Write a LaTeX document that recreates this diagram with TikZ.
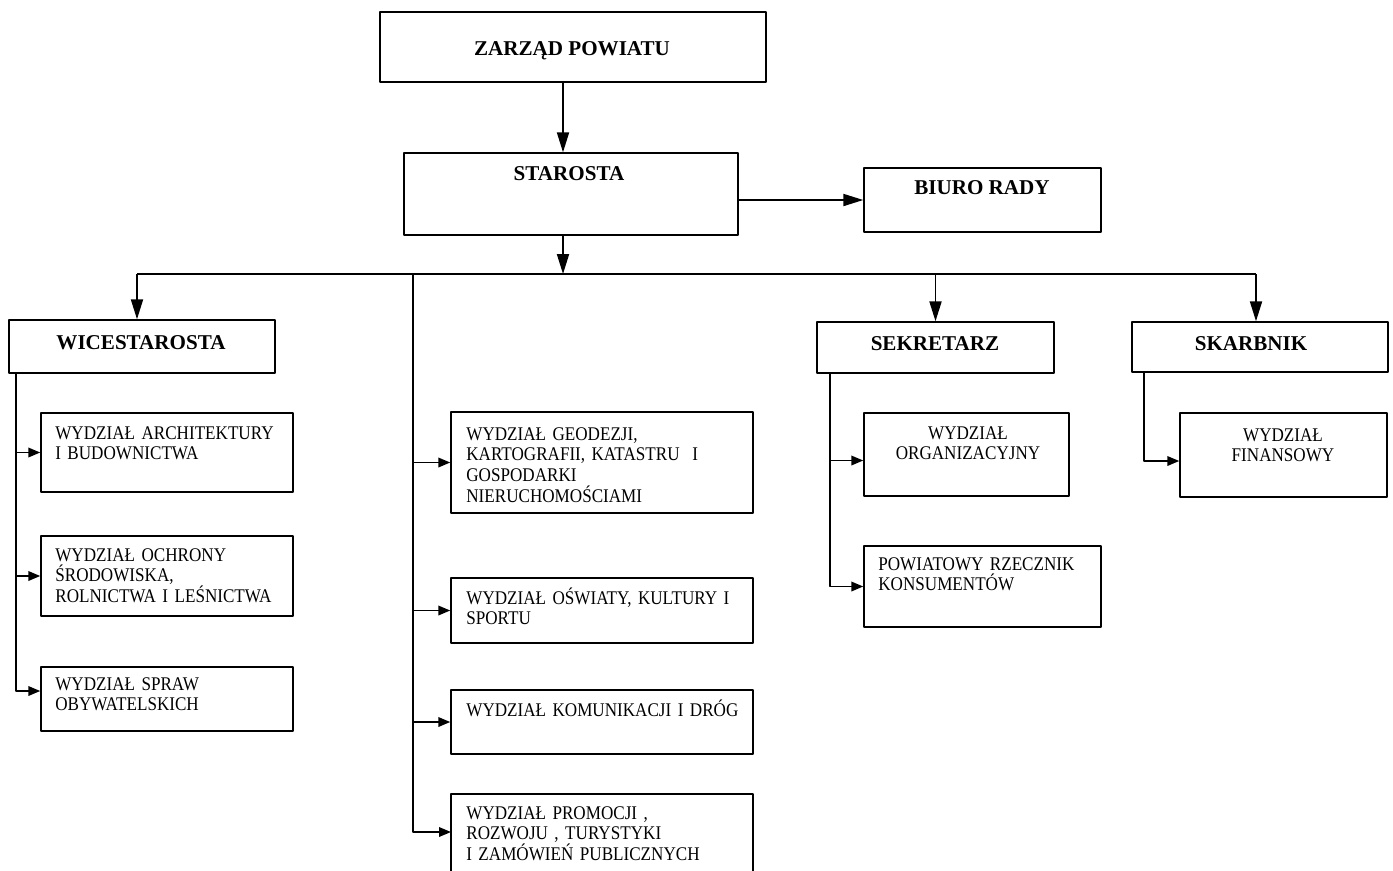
\documentclass[tikz,border=0pt]{standalone}
\usepackage{fontspec}
\setmainfont{Liberation Serif}
\newfontfamily\deptfont{Liberation Serif}[FakeStretch=0.885]
\usetikzlibrary{arrows.meta,fit}

\begin{document}
\begin{tikzpicture}
[x=0.02cm,y=-0.02cm,line join=round]
\tikzstyle{box}=[draw,line width=0.8pt,inner sep=0pt]
\tikzstyle{head}=[font=\fontsize{12}{14}\selectfont\bfseries,inner sep=0pt,anchor=base]
\tikzstyle{dept}=[font=\deptfont\fontsize{11}{11.8}\selectfont,inner sep=0pt,align=left,text width=6cm,anchor=base west]
\tikzstyle{deptc}=[font=\deptfont\fontsize{11}{11.8}\selectfont,inner sep=0pt,align=center,text width=4cm,anchor=base]
\tikzstyle{link}=[line width=1.1pt]
\tikzstyle{arr}=[link,-{Triangle[length=0.4cm,width=0.24cm]}]
\tikzstyle{sarr}=[link,-{Triangle[length=0.24cm,width=0.19cm]}]
\useasboundingbox (0,0) rectangle (1393,870);
\clip (0,0) rectangle (1393,870);

% boxes
\node[box,fit={(380,12) (766,82)}] (zarzad) {};
\node[box,fit={(404,153) (738,235)}] (starosta) {};
\node[box,fit={(864,168) (1101,232)}] (biuro) {};
\node[box,fit={(9,320) (275,373)}] (wice) {};
\node[box,fit={(817,322) (1054,373)}] (sekretarz) {};
\node[box,fit={(1132,322) (1388,372)}] (skarbnik) {};
\node[box,fit={(41,413) (293,492)}] (arch) {};
\node[box,fit={(41,536) (293,616)}] (ochrona) {};
\node[box,fit={(41,667) (293,731)}] (spraw) {};
\node[box,fit={(451,412) (753,513)}] (geodezja) {};
\node[box,fit={(451,578) (753,643)}] (oswiata) {};
\node[box,fit={(451,690) (753,754)}] (komunikacja) {};
\node[box,fit={(451,794) (753,900)}] (promocja) {};
\node[box,fit={(864,413) (1069,496)}] (organizacja) {};
\node[box,fit={(864,546) (1101,627)}] (rzecznik) {};
\node[box,fit={(1180,413) (1387,497)}] (finanse) {};

% texts
\node[head] (zarzad-t) at (572,55) {ZARZĄD POWIATU};
\node[head] (starosta-t) at (569,180) {STAROSTA};
\node[head] (biuro-t) at (982,194) {BIURO RADY};
\node[head] (wice-t) at (141,349) {WICESTAROSTA};
\node[head] (sekretarz-t) at (935,350) {SEKRETARZ};
\node[head] (skarbnik-t) at (1251,350) {SKARBNIK};
\node[dept] (arch-t) at (55,439) {WYDZIAŁ ARCHITEKTURY\\I BUDOWNICTWA};
\node[dept] (ochrona-t) at (55,561) {WYDZIAŁ OCHRONY\\ŚRODOWISKA,\\ROLNICTWA I LEŚNICTWA};
\node[dept] (spraw-t) at (55,690) {WYDZIAŁ SPRAW\\OBYWATELSKICH};
\node[dept] (geodezja-t) at (466,440) {WYDZIAŁ GEODEZJI,\\KARTOGRAFII, KATASTRU\ \ I\\GOSPODARKI\\NIERUCHOMOŚCIAMI};
\node[dept] (oswiata-t) at (466,604) {WYDZIAŁ OŚWIATY, KULTURY I\\SPORTU};
\node[dept] (komunikacja-t) at (466,716) {WYDZIAŁ KOMUNIKACJI I DRÓG};
\node[dept] (promocja-t) at (466,819) {WYDZIAŁ PROMOCJI ,\\ROZWOJU , TURYSTYKI\\I ZAMÓWIEŃ PUBLICZNYCH};
\node[deptc] (organizacja-t) at (968,439) {WYDZIAŁ\\ORGANIZACYJNY};
\node[dept] (rzecznik-t) at (878,570) {POWIATOWY RZECZNIK\\KONSUMENTÓW};
\node[deptc] (finanse-t) at (1283,441) {WYDZIAŁ\\FINANSOWY};

% points on the lines
\coordinate (mainx) at (563,0);
\coordinate (bus) at (563,274);
\coordinate (busl) at (137,274);
\coordinate (busr) at (1256,274);
\coordinate (midx) at (413,274);
\coordinate (leftx) at (16,0);
\coordinate (sekx) at (830,0);
\coordinate (skax) at (1144,0);
\coordinate (promocja-in) at (451,832);

% connectors
\draw[arr] (zarzad.south -| mainx) -- (starosta.north -| mainx);
\draw[arr] (starosta.east |- biuro.west) -- (biuro.west);
\draw[arr] (starosta.south -| mainx) -- (bus);
\draw[link] (busl) -- (busr);
\draw[arr] (busl) -- (wice.north -| busl);
\draw[arr] (bus -| sekretarz.north) -- (sekretarz.north);
\draw[arr] (busr) -- (skarbnik.north -| busr);
\draw[sarr] (wice.south -| leftx) |- (arch.west);
\draw[sarr] (wice.south -| leftx) |- (ochrona.west);
\draw[sarr] (wice.south -| leftx) |- ([yshift=0.16cm]spraw.west);
\draw[sarr] (midx) |- (geodezja.west);
\draw[sarr] (midx) |- (oswiata.west);
\draw[sarr] (midx) |- (komunikacja.west);
\draw[sarr] (midx) |- (promocja-in);
\draw[sarr] (sekretarz.south -| sekx) |- ([yshift=-0.12cm]organizacja.west);
\draw[sarr] (sekretarz.south -| sekx) |- (rzecznik.west);
\draw[sarr] (skarbnik.south -| skax) |- ([yshift=-0.12cm]finanse.west);
\end{tikzpicture}
\end{document}
